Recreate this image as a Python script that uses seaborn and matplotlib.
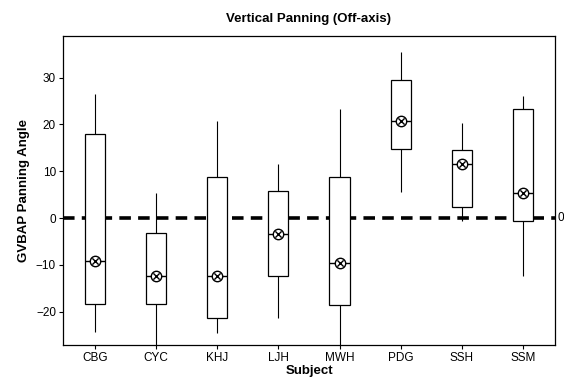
import matplotlib
matplotlib.use("Agg")
import matplotlib.pyplot as plt
import seaborn as sns
import pandas as pd

subjects = ["CBG", "CYC", "KHJ", "LJH", "MWH", "PDG", "SSH", "SSM"]
whisk_low = [-24.3, -27.5, -24.5, -21.4, -27.5, 5.6, -0.6, -12.3]
q1 = [-18.4, -18.4, -21.4, -12.3, -18.6, 14.7, 2.4, -0.6]
median = [-9.2, -12.3, -12.3, -3.3, -9.5, 20.8, 11.5, 5.4]
q3 = [17.9, -3.2, 8.8, 5.7, 8.7, 29.5, 14.5, 23.3]
whisk_high = [26.6, 5.4, 20.8, 11.5, 23.3, 35.5, 20.4, 26.1]
mean = [-9.2, -12.3, -12.3, -3.3, -9.5, 20.8, 11.5, 5.4]
yticks = [-20, -10, 0, 10, 20, 30]

rows = []
for i, s in enumerate(subjects):
    for v in (whisk_low[i], q1[i], median[i], q3[i], whisk_high[i]):
        rows.append({"Subject": s, "Angle": v})
df = pd.DataFrame(rows)
mdf = pd.DataFrame({"Subject": subjects, "Mean": mean})

sns.set_style("ticks")
plt.rcParams["font.family"] = ["Liberation Sans", "DejaVu Sans"]
plt.rcParams.update({"text.color": "black", "axes.labelcolor": "black",
                     "xtick.color": "black", "ytick.color": "black"})

fig = plt.figure(figsize=(5.64, 3.91), dpi=100)
ax = fig.add_axes([0.1117, 0.1176, 0.8723, 0.7904])

ax.axhline(0, color="black", lw=2.6, ls=(0, (3.2, 2.0)), zorder=1)

sns.boxplot(data=df, x="Subject", y="Angle", order=subjects, whis=(0, 100),
            width=0.33, color="white", linecolor="black", linewidth=0.9,
            showcaps=False, fliersize=0, ax=ax,
            boxprops=dict(zorder=2), whiskerprops=dict(lw=0.8),
            medianprops=dict(lw=1.0))

sns.stripplot(data=mdf, x="Subject", y="Mean", order=subjects, jitter=False,
              marker="o", s=7.5, color="white", edgecolor="black", linewidth=1.0,
              ax=ax, zorder=5)
sns.stripplot(data=mdf, x="Subject", y="Mean", order=subjects, jitter=False,
              marker="x", s=4.5, color="black", linewidth=1.0, ax=ax, zorder=6)

ax.set_xlim(-0.52, 7.52)
ax.set_ylim(-27.1, 38.9)
ax.set_yticks(yticks)
ax.tick_params(axis="both", direction="out", length=3, width=0.8, labelsize=8.5, pad=2)
for sp in ax.spines.values():
    sp.set_visible(True)
    sp.set_linewidth(0.9)
    sp.set_color("black")

ax.set_xlabel("Subject", fontsize=9.5, fontweight="bold", labelpad=1)
ax.set_ylabel("GVBAP Panning Angle", fontsize=9.5, fontweight="bold", labelpad=4)
ax.set_title("Vertical Panning (Off-axis)", fontsize=9.5, fontweight="bold", pad=10)
ax.text(1.006, 0, "0", transform=ax.get_yaxis_transform(), va="center", ha="left", fontsize=8.5)

fig.savefig("out.png", dpi=100)
